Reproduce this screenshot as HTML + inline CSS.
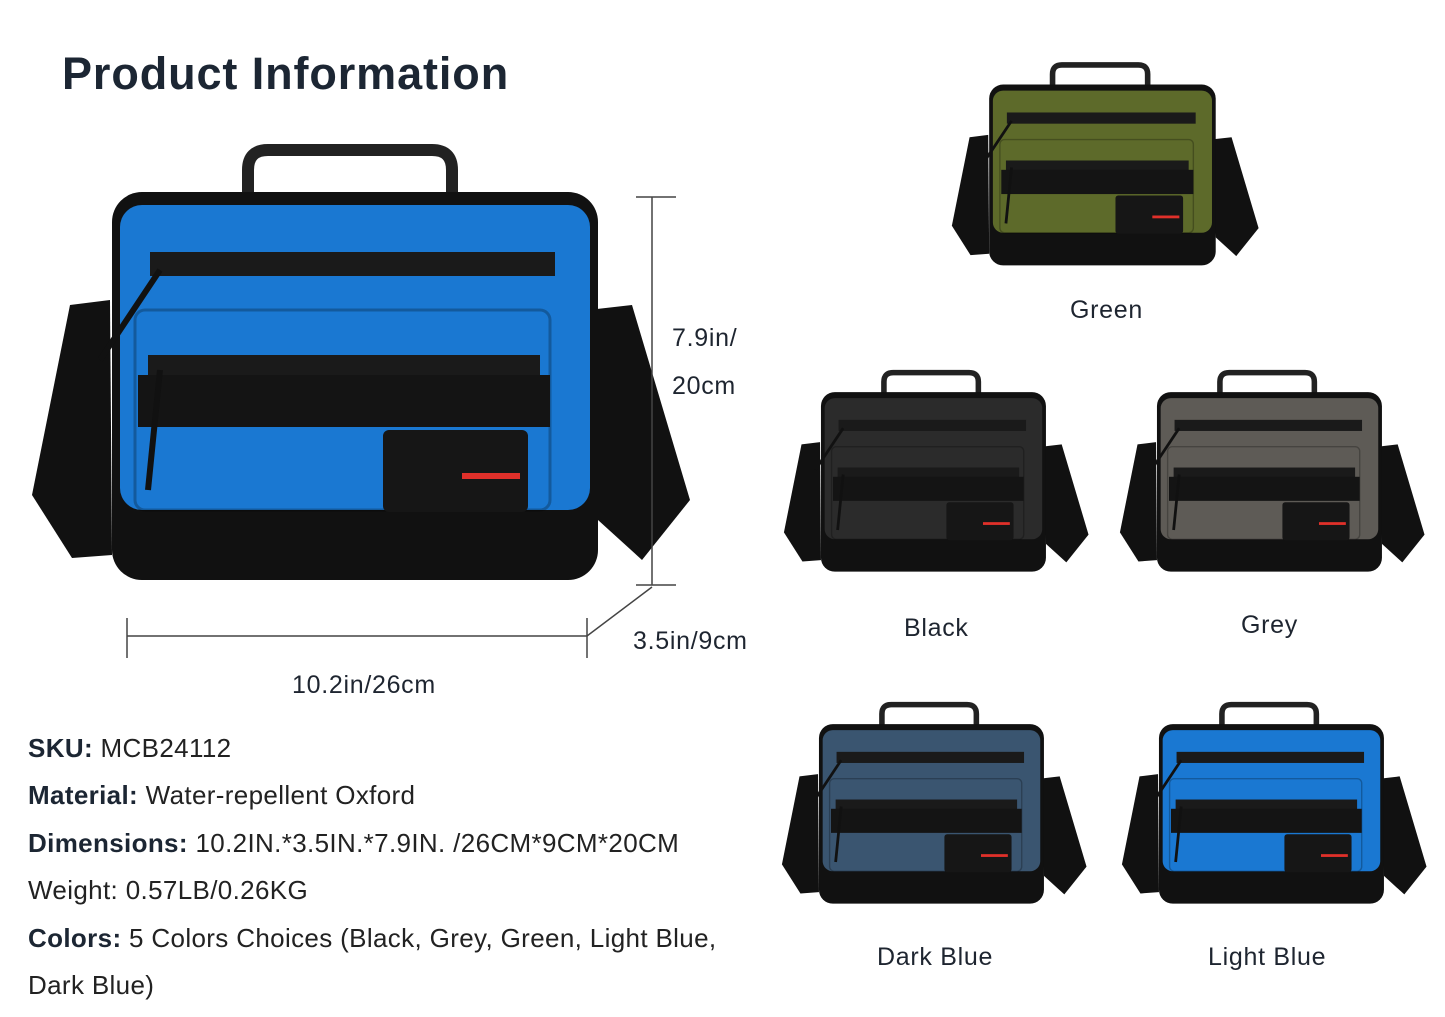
<!DOCTYPE html>
<html><head><meta charset="utf-8"><style>
html,body{margin:0;padding:0;background:#fff;}
body{width:1445px;height:1017px;position:relative;overflow:hidden;font-family:"Liberation Sans","DejaVu Sans",sans-serif;color:#222;}
.t{position:absolute;white-space:nowrap;font-size:25px;letter-spacing:0.7px;color:#1e2530;}
h1{position:absolute;left:62px;top:48px;margin:0;font-size:45px;font-weight:bold;color:#1c2633;letter-spacing:0.9px;}
.s{position:absolute;left:28px;font-size:26px;letter-spacing:0.35px;color:#222;white-space:nowrap;}
.s b{color:#1c2633;}
svg{position:absolute;}
</style></head><body>
<svg width="0" height="0" style="position:absolute">
<defs>
<symbol id="bag" viewBox="28 140 665 445">
 <polygon points="32,495 70,305 110,300 112,555 72,558" fill="#111"/>
 <polygon points="588,310 632,305 690,500 642,560 598,520" fill="#111"/>
 <path d="M248,195 L248,170 Q248,150 268,150 L432,150 Q452,150 452,170 L452,195" fill="none" stroke="#222" stroke-width="12"/>
 <rect x="112" y="192" width="486" height="388" rx="30" fill="#111"/>
 <rect x="120" y="205" width="470" height="305" rx="22" fill="currentColor"/>
 <rect x="150" y="252" width="405" height="24" fill="#1a1a1a"/>
 <rect x="135" y="310" width="415" height="200" rx="10" fill="currentColor" stroke="rgba(0,0,0,0.25)" stroke-width="3"/>
 <rect x="148" y="355" width="392" height="22" fill="#1a1a1a"/>
 <rect x="138" y="375" width="412" height="52" fill="#141414"/>
 <rect x="383" y="430" width="145" height="82" rx="6" fill="#161616"/>
 <rect x="462" y="473" width="58" height="6" fill="#e0302a"/>
 <line x1="160" y1="270" x2="100" y2="360" stroke="#111" stroke-width="6"/>
 <line x1="160" y1="370" x2="148" y2="490" stroke="#111" stroke-width="6"/>
</symbol>
</defs>
</svg>

<h1>Product Information</h1>

<svg style="left:0;top:0" width="1445" height="1017">
 <use href="#bag" x="28" y="140" width="665" height="445" style="color:#1a78d2"/>
 <g stroke="#444" stroke-width="1.5" fill="none">
  <line x1="652" y1="197" x2="652" y2="585"/>
  <line x1="636" y1="197" x2="676" y2="197"/>
  <line x1="636" y1="585" x2="676" y2="585"/>
  <line x1="127" y1="636" x2="587" y2="636"/>
  <line x1="127" y1="618" x2="127" y2="658"/>
  <line x1="587" y1="618" x2="587" y2="658"/>
  <line x1="587" y1="636" x2="652" y2="587"/>
 </g>
 <use href="#bag" x="950" y="60" width="310" height="208" style="color:#5d6a2a"/>
 <use href="#bag" x="782" y="368" width="308" height="206" style="color:#2b2b2b"/>
 <use href="#bag" x="1118" y="368" width="308" height="206" style="color:#5e5b56"/>
 <use href="#bag" x="780" y="700" width="308" height="206" style="color:#3a5570"/>
 <use href="#bag" x="1120" y="700" width="308" height="206" style="color:#1a78d2"/>
</svg>

<div class="t" style="left:672px;top:324px">7.9in/</div>
<div class="t" style="left:672px;top:372px">20cm</div>
<div class="t" style="left:633px;top:627px">3.5in/9cm</div>
<div class="t" style="left:292px;top:671px">10.2in/26cm</div>

<div class="t" style="left:1070px;top:296px">Green</div>
<div class="t" style="left:904px;top:614px">Black</div>
<div class="t" style="left:1241px;top:611px">Grey</div>
<div class="t" style="left:877px;top:943px">Dark Blue</div>
<div class="t" style="left:1208px;top:943px">Light Blue</div>

<div class="s" style="top:733px"><b>SKU:</b> MCB24112</div>
<div class="s" style="top:780px"><b>Material:</b> Water-repellent Oxford</div>
<div class="s" style="top:828px"><b>Dimensions:</b> 10.2IN.*3.5IN.*7.9IN. /26CM*9CM*20CM</div>
<div class="s" style="top:875px">Weight: 0.57LB/0.26KG</div>
<div class="s" style="top:923px"><b>Colors:</b> 5 Colors Choices (Black, Grey, Green, Light Blue,</div>
<div class="s" style="top:970px">Dark Blue)</div>
</body></html>
